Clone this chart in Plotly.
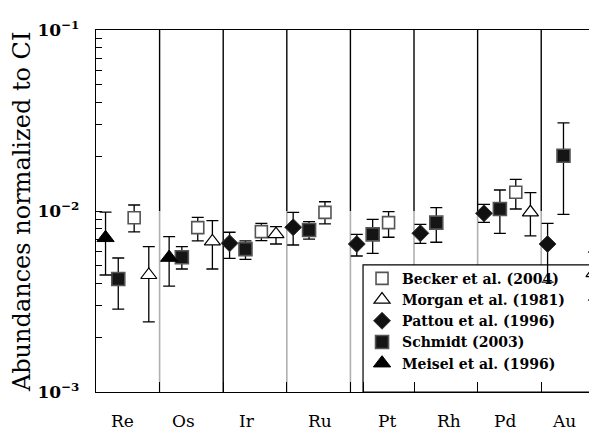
import plotly.graph_objects as go

# ---------------- data ----------------
elements = ["Re", "Os", "Ir", "Ru", "Pt", "Rh", "Pd", "Au"]

# Becker et al. (2004)
becker_el = ["Re", "Os", "Ir", "Ru", "Pt", "Pd"]
becker_val = [9.18e-3, 8.09e-3, 7.69e-3, 9.83e-3, 8.62e-3, 1.269e-2]
becker_hi = [1.079e-2, 9.23e-3, 8.55e-3, 1.125e-2, 9.91e-3, 1.496e-2]
becker_lo = [7.66e-3, 6.83e-3, 6.86e-3, 8.48e-3, 7.16e-3, 1.026e-2]

# Morgan et al. (1981)
morgan_el = ["Re", "Os", "Ir", "Pd", "Au"]
morgan_val = [4.43e-3, 6.79e-3, 7.45e-3, 9.83e-3, 4.54e-3]
morgan_hi = [6.35e-3, 8.84e-3, 8.19e-3, 1.262e-2, 5.93e-3]
morgan_lo = [2.44e-3, 4.78e-3, 6.57e-3, 7.28e-3, 3.22e-3]

# Pattou et al. (1996)
pattou_el = ["Ir", "Ru", "Pt", "Rh", "Pd", "Au"]
pattou_val = [6.63e-3, 8.13e-3, 6.57e-3, 7.53e-3, 9.71e-3, 6.57e-3]
pattou_hi = [7.63e-3, 9.83e-3, 7.43e-3, 8.44e-3, 1.089e-2, 8.55e-3]
pattou_lo = [5.48e-3, 6.49e-3, 5.64e-3, 6.63e-3, 8.66e-3, 4.05e-3]

# Schmidt (2003)
schmidt_el = ["Re", "Os", "Ir", "Ru", "Pt", "Rh", "Pd", "Au"]
schmidt_val = [4.21e-3, 5.55e-3, 6.16e-3, 7.85e-3, 7.43e-3, 8.62e-3, 1.026e-2, 2.02e-2]
schmidt_hi = [5.50e-3, 6.35e-3, 6.83e-3, 8.73e-3, 9.0e-3, 1.043e-2, 1.306e-2, 3.07e-2]
schmidt_lo = [2.87e-3, 4.78e-3, 5.41e-3, 7.0e-3, 5.84e-3, 6.72e-3, 7.53e-3, 9.59e-3]

# Meisel et al. (1996)
meisel_el = ["Re", "Os"]
meisel_val = [7.11e-3, 5.53e-3]
meisel_hi = [9.87e-3, 7.21e-3]
meisel_lo = [4.43e-3, 3.85e-3]

ytick_decades = [1e-3, 1e-2, 1e-1]
ytick_labels = ["10<sup>\u22123</sup>", "10<sup>\u22122</sup>", "10<sup>\u22121</sup>"]

# ---------------- layout helpers ----------------
SERIF = "DejaVu Serif"
XMAX = 7.877
label_offset = {"Re": 0.42, "Os": 1.37, "Ir": 2.37, "Ru": 3.52,
                "Pt": 4.58, "Rh": 5.55, "Pd": 6.43, "Au": 7.36}


def xpos(els, offset):
    return [elements.index(e) + offset for e in els]


def err(vals, hi, lo):
    return dict(type="data", symmetric=False,
                array=[h - v for v, h in zip(vals, hi)],
                arrayminus=[v - l for v, l in zip(vals, lo)],
                color="black", thickness=1.3, width=6)


series = [
    ("Becker et al. (2004)", becker_el, becker_val, becker_hi, becker_lo, 0.60,
     dict(symbol="square", size=12, color="white", line=dict(color="#555", width=1.6))),
    ("Morgan et al. (1981)", morgan_el, morgan_val, morgan_hi, morgan_lo, 0.83,
     dict(symbol="triangle-up", size=14, color="white", line=dict(color="black", width=1.2))),
    ("Pattou et al. (1996)", pattou_el, pattou_val, pattou_hi, pattou_lo, 0.10,
     dict(symbol="diamond", size=13, color="#111", line=dict(color="#333", width=1))),
    ("Schmidt (2003)", schmidt_el, schmidt_val, schmidt_hi, schmidt_lo, 0.35,
     dict(symbol="square", size=13, color="#151515", line=dict(color="#555", width=1.6))),
    ("Meisel et al. (1996)", meisel_el, meisel_val, meisel_hi, meisel_lo, 0.15,
     dict(symbol="triangle-up", size=15, color="black", line=dict(color="black", width=1))),
]

fig = go.Figure()
for name, els, vals, hi, lo, off, mk in series:
    fig.add_trace(go.Scatter(
        x=xpos(els, off), y=vals, mode="markers", name=name,
        legendgroup=name, marker=mk, error_y=err(vals, hi, lo),
        cliponaxis=False))

shapes = []
# separators between element groups
for k in range(1, 8):
    if k == 2:
        shapes.append(dict(type="line", xref="x", yref="paper", x0=k, x1=k, y0=0, y1=1,
                           line=dict(color="black", width=1.4), layer="below"))
    else:
        shapes.append(dict(type="line", xref="x", yref="paper", x0=k, x1=k, y0=0.5, y1=1,
                           line=dict(color="black", width=1.4), layer="below"))
        shapes.append(dict(type="line", xref="x", yref="paper", x0=k, x1=k, y0=0, y1=0.5,
                           line=dict(color="#b0b0b0", width=1.6), layer="below"))
# legend box
shapes.append(dict(type="rect", xref="paper", yref="paper", x0=0.533, x1=1.05, y0=0, y1=0.351,
                   fillcolor="white", line=dict(color="black", width=1.2), layer="below"))

annotations = []
for e in elements:
    annotations.append(dict(x=label_offset[e], y=0, xref="x", yref="paper",
                            text=e, showarrow=False, yanchor="bottom", yshift=-41,
                            font=dict(family=SERIF, size=17, color="black")))
annotations.append(dict(x=-74 / 501, y=0.497, xref="paper", yref="paper",
                        text="Abundances normalized to CI", showarrow=False, textangle=-90,
                        xanchor="center", yanchor="middle",
                        font=dict(family=SERIF, size=24, color="black")))

minor_vals = [m * d for d in [1e-3, 1e-2] for m in range(2, 10)]

# page body has an 8px margin: the figure is sized/offset to compensate
fig.update_layout(
    width=589, height=425,
    margin=dict(l=88, r=0, t=22, b=41, autoexpand=False),
    plot_bgcolor="white", paper_bgcolor="white",
    showlegend=True,
    legend=dict(x=0.531, y=0.357, xanchor="left", yanchor="top",
                bgcolor="rgba(0,0,0,0)", borderwidth=0, tracegroupgap=0,
                font=dict(family=SERIF, size=14, color="black", weight="bold")),
    xaxis=dict(range=[0, XMAX], showgrid=False, zeroline=False, automargin=False,
               showline=True, linecolor="black", linewidth=1.4, mirror=True,
               tickvals=[1, 2, 3, 4, 4.21, 5, 6, 7], showticklabels=False,
               ticks="inside", ticklen=10, tickcolor="black", tickwidth=1.2),
    yaxis=dict(type="log", range=[-3, -1], showgrid=False, zeroline=False, automargin=False,
               showline=True, linecolor="black", linewidth=1.4,
               tickvals=ytick_decades, ticktext=["<b>" + t + "</b>" for t in ytick_labels],
               ticks="inside", ticklen=6, tickcolor="black", tickwidth=1.2,
               ticklabelstandoff=12,
               minor=dict(tickvals=minor_vals, ticks="inside", ticklen=6,
                          tickcolor="black", tickwidth=1.2, showgrid=False),
               tickfont=dict(family=SERIF, size=17, color="black")),
    shapes=shapes,
    annotations=annotations,
)

fig.write_html("out.html")
